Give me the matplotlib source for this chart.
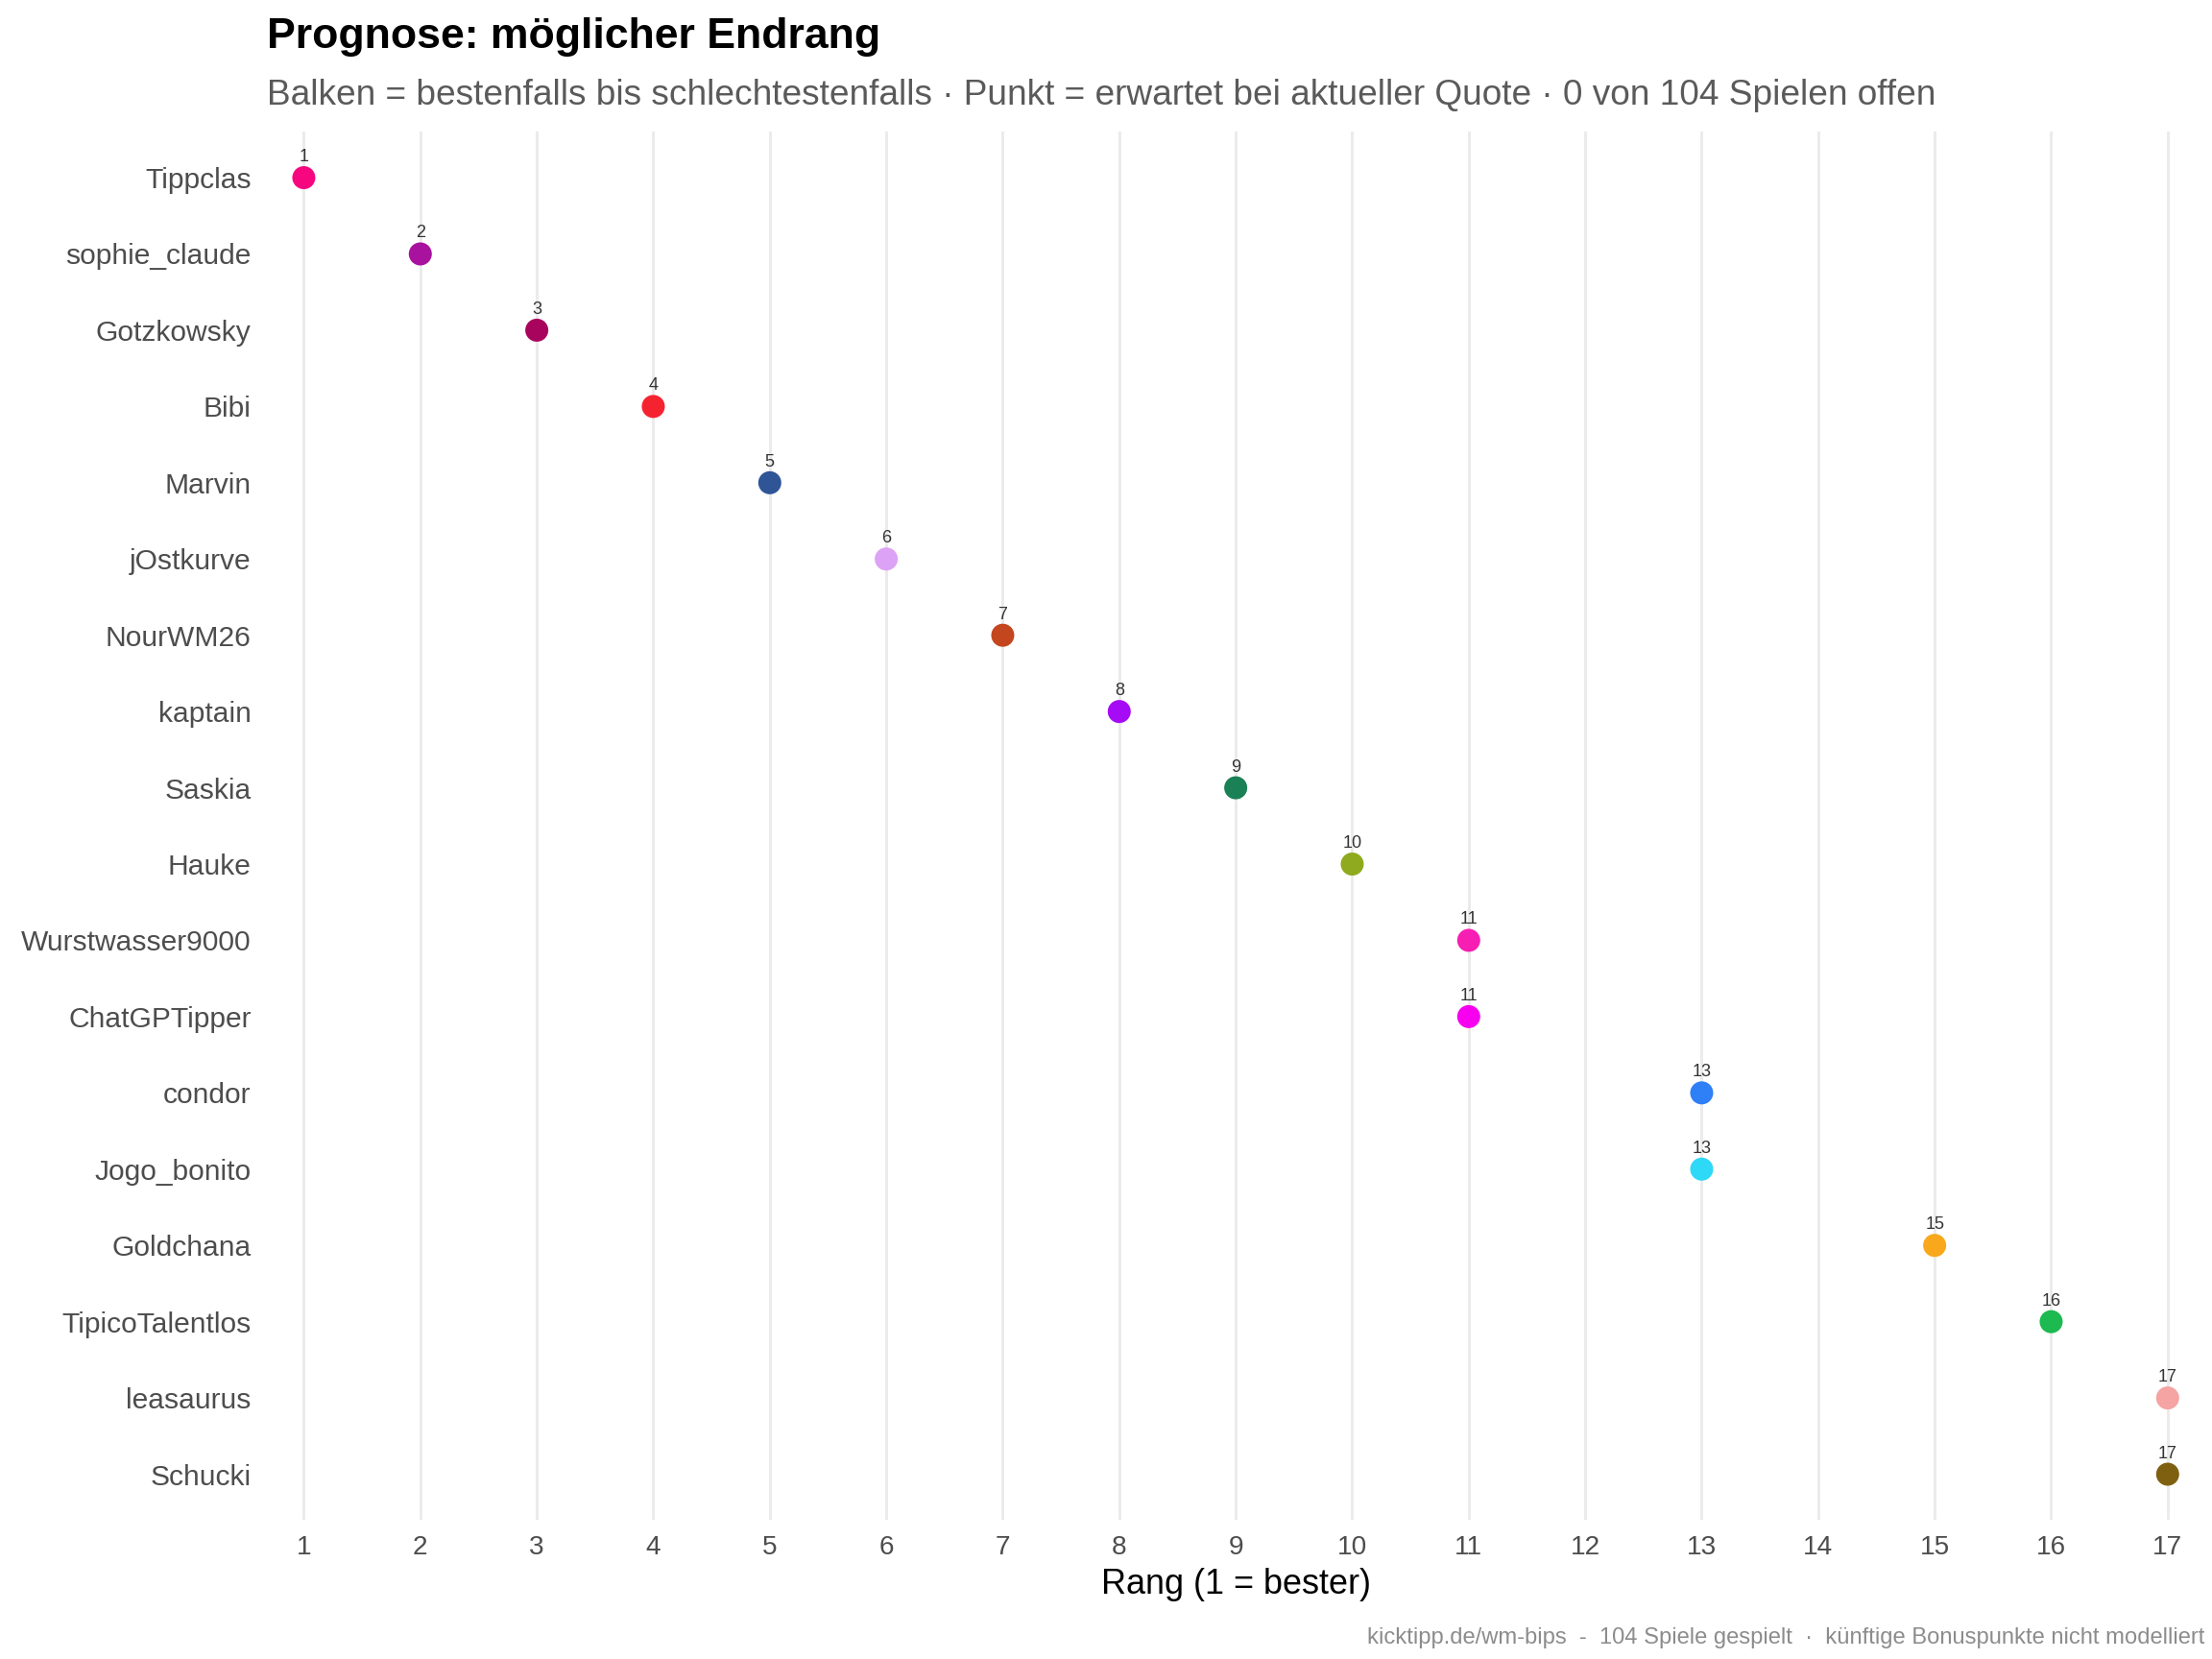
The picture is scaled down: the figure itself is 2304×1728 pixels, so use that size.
import matplotlib
matplotlib.use("Agg")
import matplotlib.pyplot as plt

plt.rcParams["font.family"] = ["Liberation Sans", "DejaVu Sans"]

# players, top to bottom
players = ["Tippclas", "sophie_claude", "Gotzkowsky", "Bibi", "Marvin", "jOstkurve",
           "NourWM26", "kaptain", "Saskia", "Hauke", "Wurstwasser9000", "ChatGPTipper",
           "condor", "Jogo_bonito", "Goldchana", "TipicoTalentlos", "leasaurus", "Schucki"]
expected = [1, 2, 3, 4, 5, 6, 7, 8, 9, 10, 11, 11, 13, 13, 15, 16, 17, 17]
best = [1, 2, 3, 4, 5, 6, 7, 8, 9, 10, 11, 11, 13, 13, 15, 16, 17, 17]
worst = [1, 2, 3, 4, 5, 6, 7, 8, 9, 10, 11, 11, 13, 13, 15, 16, 17, 17]
colors = ["#F7077F", "#A8129F", "#A8045E", "#F52330", "#2F5597", "#DCA2F5",
          "#C4461E", "#A60BF5", "#1A8055", "#8FAA1E", "#F71EB4", "#F700F0",
          "#2F7FF7", "#2ED8F7", "#F8A81A", "#1CBA50", "#F5A3A3", "#7F6010"]
x_ticks = list(range(1, 18))

fig = plt.figure(figsize=(16, 12), dpi=144)
ax = fig.add_axes([0.1205, 0.0838, 0.8763, 0.8367])

ypos = list(range(len(players)))

# range bars (best..worst) - zero length when nothing is open
ax.hlines(ypos, best, worst, colors=colors, linewidth=8, alpha=0.35, zorder=2)

ax.scatter(expected, ypos, s=144, c=colors, zorder=3, linewidths=0)
for x, y in zip(expected, ypos):
    ax.annotate(str(x), (x, y), xytext=(0, 8.5), textcoords="offset points",
                ha="center", va="baseline", fontsize=9, color="#333333", zorder=4)

ax.set_xlim(0.68, 17.32)
ax.set_ylim(len(players) - 0.4, -0.6)
ax.set_xticks(x_ticks)
ax.set_yticks(ypos)
ax.set_yticklabels(players)
ax.tick_params(axis="x", length=0, pad=8, labelsize=14, labelcolor="#4D4D4D")
ax.tick_params(axis="y", length=0, pad=8, labelsize=15, labelcolor="#4D4D4D")
ax.grid(axis="x", color="#EBEBEB", linewidth=1.5, zorder=0)
ax.set_axisbelow(True)
for s in ax.spines.values():
    s.set_visible(False)
ax.set_xlabel("Rang (1 = bester)", fontsize=18, color="black", labelpad=4)

fig.text(0.1205, 0.9775, "Prognose: möglicher Endrang", fontsize=22.3, fontweight="bold",
         ha="left", va="center", color="black")
fig.text(0.1205, 0.9425,
         "Balken = bestenfalls bis schlechtestenfalls · Punkt = erwartet bei aktueller Quote · 0 von 104 Spielen offen",
         fontsize=18.5, ha="left", va="center", color="#5A5A5A")
fig.text(0.9968, 0.0128,
         "kicktipp.de/wm-bips  -  104 Spiele gespielt  ·  künftige Bonuspunkte nicht modelliert",
         fontsize=11.9, ha="right", va="center", color="#8C8C8C")

fig.savefig("out.png", dpi=144, facecolor="white")
